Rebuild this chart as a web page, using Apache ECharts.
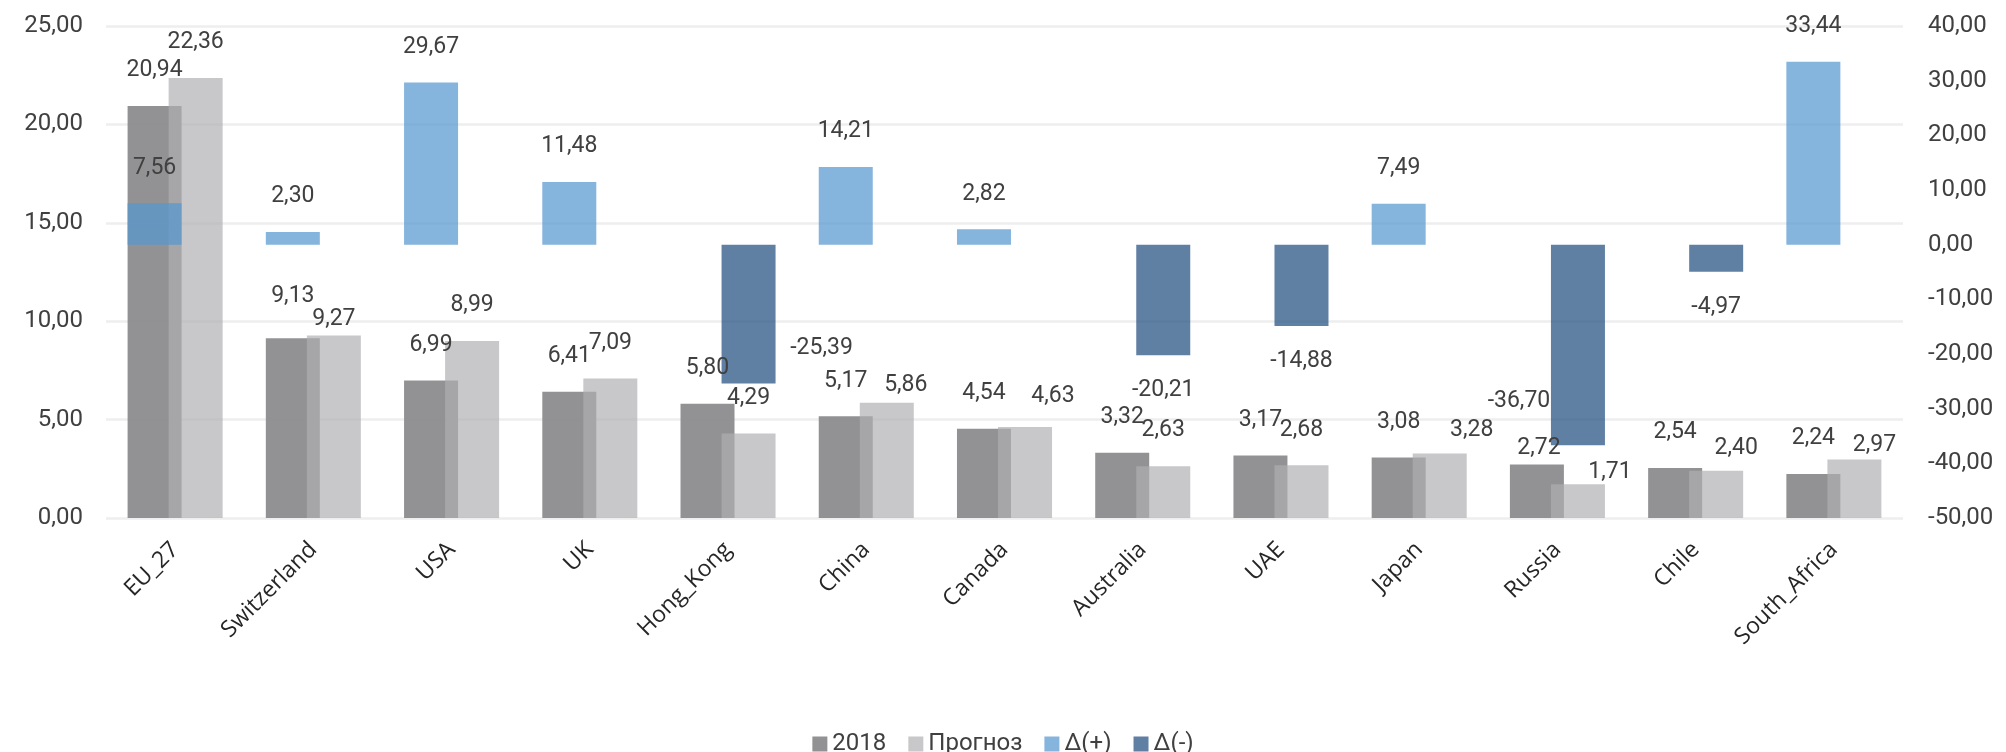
<!DOCTYPE html>
<html>
<head>
<meta charset="utf-8">
<script src="https://cdn.jsdelivr.net/npm/echarts@6/dist/echarts.min.js"></script>
<style>
  html, body { margin: 0; padding: 0; background: #fff; }
  #container { width: 2006px; height: 752px; }
</style>
</head>
<body>
<div id="container"></div>
<script>
var countries = ['EU_27', 'Switzerland', 'USA', 'UK', 'Hong_Kong', 'China', 'Canada',
  'Australia', 'UAE', 'Japan', 'Russia', 'Chile', 'South_Africa'];
var values2018 = [20.94, 9.13, 6.99, 6.41, 5.80, 5.17, 4.54, 3.32, 3.17, 3.08, 2.72, 2.54, 2.24];
var forecast = [22.36, 9.27, 8.99, 7.09, 4.29, 5.86, 4.63, 2.63, 2.68, 3.28, 1.71, 2.40, 2.97];
var delta = [7.56, 2.30, 29.67, 11.48, -25.39, 14.21, 2.82, -20.21, -14.88, 7.49, -36.70, -4.97, 33.44];

var dom = document.getElementById('container');
var myChart = echarts.init(dom, null, { renderer: 'canvas' });

// labels that were dragged by hand in the original (pixel offsets)
var nudge2018 = { 'Switzerland': [0, -7], 'Russia': [2, 19] };
var nudgeForecast = {
  'Switzerland': [0, 19], 'China': [19, 18], 'Canada': [28, 5], 'Japan': [32, 12],
  'Russia': [32, 23], 'Chile': [20, 13], 'South_Africa': [20, 21]
};
var nudgeMinus = { 'Hong_Kong': [73, -71], 'Russia': [-59, -80] };

function fmt(v) {
  return Number(v).toFixed(2).replace('.', ',');
}

function withNudge(values, nudges) {
  return values.map(function (v, i) {
    if (v === '-') return v;
    var off = nudges[countries[i]];
    return off ? { value: v, label: { offset: off } } : v;
  });
}

var labelFont = { fontFamily: 'Roboto', fontSize: 23, color: '#404040' };

function barLabel(pos) {
  return Object.assign({
    show: true,
    position: pos,
    distance: 24,
    formatter: function (p) { return fmt(p.value); }
  }, labelFont);
}

var deltaPlus = delta.map(function (v) { return v >= 0 ? v : '-'; });
var deltaMinus = delta.map(function (v) { return v < 0 ? v : '-'; });

var barCommon = {
  type: 'bar',
  barWidth: 54,
  barGap: '-24%'
};

var option = {
  animation: false,
  textStyle: { fontFamily: 'Roboto' },
  legend: {
    data: ['2018', 'Прогноз', 'Δ(+)', 'Δ(-)'],
    left: 'center',
    top: 727,
    icon: 'rect',
    itemWidth: 15,
    itemHeight: 15,
    itemGap: 22,
    textStyle: { fontFamily: 'Roboto', fontSize: 24, color: '#404040' }
  },
  grid: { left: 106, right: 103, top: 26, bottom: 234, containLabel: false },
  xAxis: [{
    type: 'category',
    data: countries,
    axisLine: { show: false },
    axisTick: { show: false },
    axisLabel: {
      rotate: 45,
      margin: 28,
      interval: 0,
      fontFamily: 'Open Sans',
      fontSize: 23,
      color: '#262626'
    }
  }, {
    type: 'category',
    data: countries,
    show: false
  }],
  yAxis: [{
    type: 'value',
    min: 0,
    max: 25,
    interval: 5,
    axisLine: { show: false },
    axisTick: { show: false },
    axisLabel: { formatter: fmt, margin: 23, fontFamily: 'Roboto', fontSize: 24, color: '#404040' },
    splitLine: { lineStyle: { color: '#eeeeee', width: 2.5 } }
  }, {
    type: 'value',
    min: -50,
    max: 40,
    interval: 10,
    axisLine: { show: false },
    axisTick: { show: false },
    axisLabel: { formatter: fmt, margin: 25, fontFamily: 'Roboto', fontSize: 24, color: '#404040' },
    splitLine: { show: false }
  }],
  series: [
    Object.assign({}, barCommon, {
      name: '2018',
      xAxisIndex: 0,
      yAxisIndex: 0,
      data: withNudge(values2018, nudge2018),
      itemStyle: { color: 'rgba(140,140,142,0.95)' },
      label: barLabel('top')
    }),
    Object.assign({}, barCommon, {
      name: 'Прогноз',
      xAxisIndex: 0,
      yAxisIndex: 0,
      data: withNudge(forecast, nudgeForecast),
      itemStyle: { color: 'rgba(175,175,178,0.69)' },
      label: barLabel('top')
    }),
    Object.assign({}, barCommon, {
      name: 'Δ(+)',
      xAxisIndex: 1,
      yAxisIndex: 1,
      data: deltaPlus,
      itemStyle: { color: 'rgba(86,151,208,0.72)' },
      label: barLabel('top')
    }),
    Object.assign({}, barCommon, {
      name: 'Δ(-)',
      xAxisIndex: 1,
      yAxisIndex: 1,
      data: withNudge(deltaMinus, nudgeMinus),
      itemStyle: { color: 'rgba(33,79,127,0.72)' },
      label: barLabel('bottom')
    })
  ]
};

myChart.setOption(option);
window.addEventListener('resize', myChart.resize);
</script>
</body>
</html>
